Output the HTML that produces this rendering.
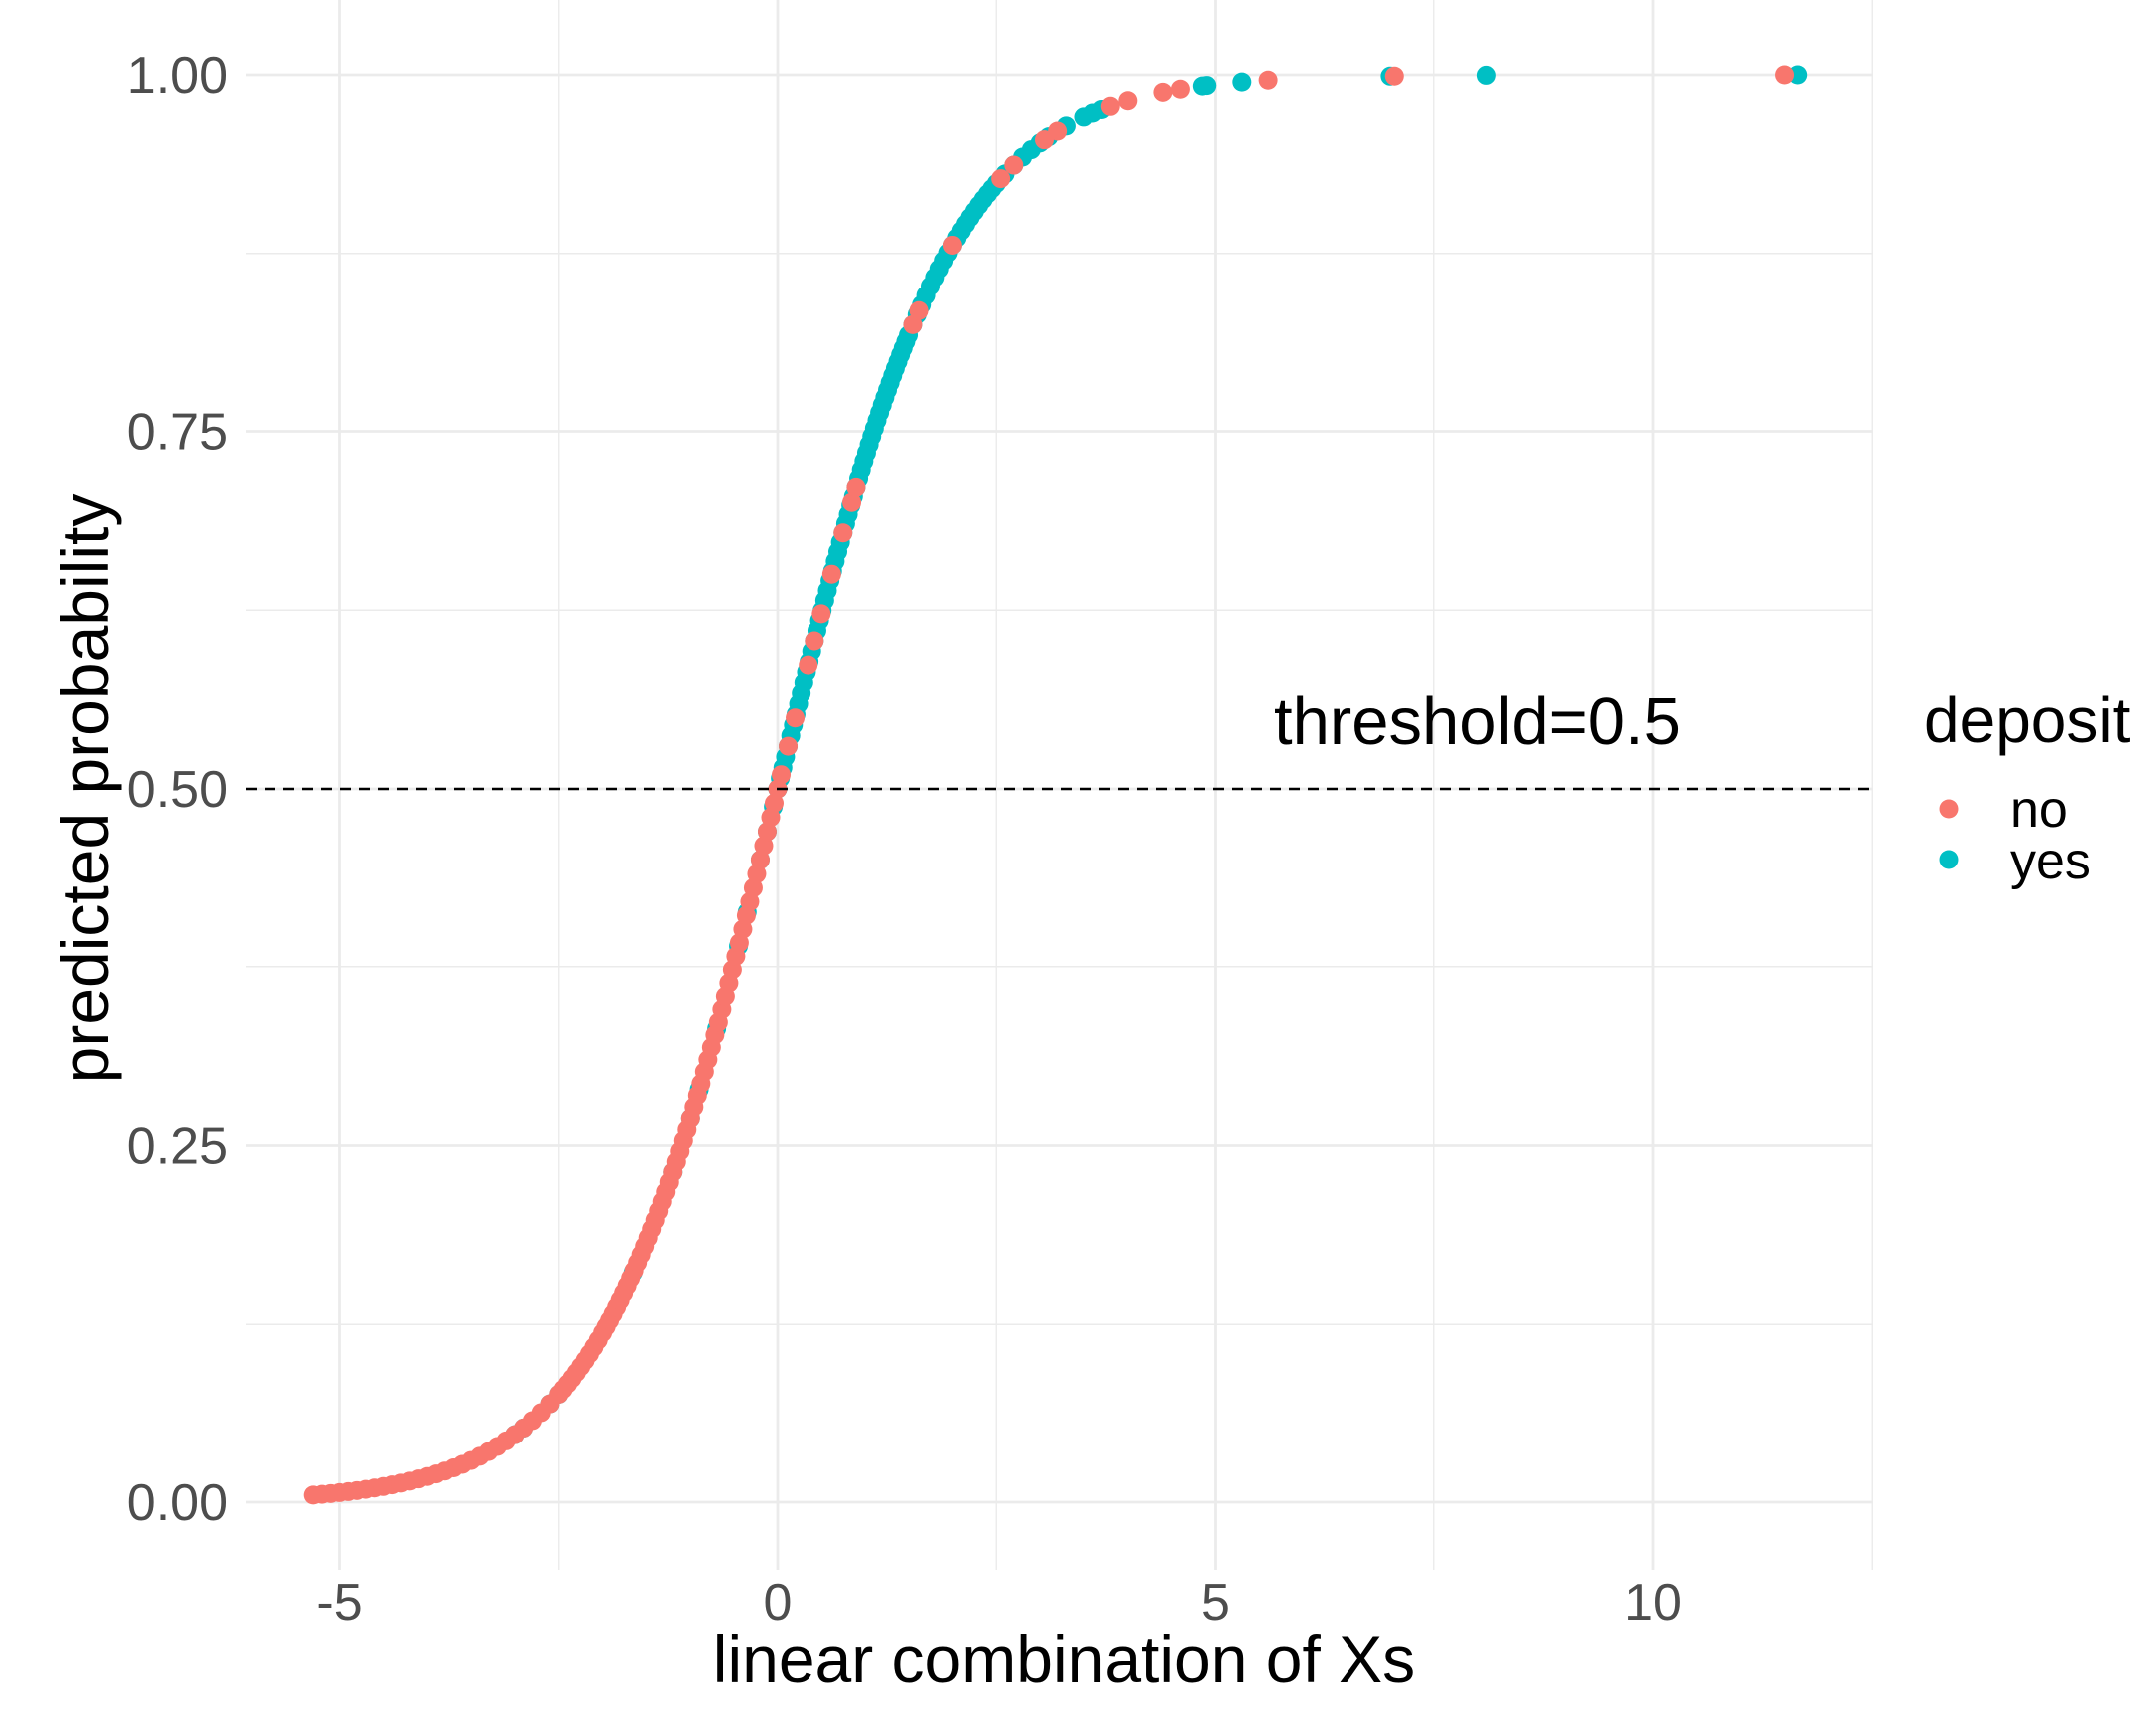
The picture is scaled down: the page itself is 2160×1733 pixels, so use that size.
<!DOCTYPE html>
<html><head><meta charset="utf-8"><style>
body{margin:0;background:#fff}
svg text{font-family:"Liberation Sans",sans-serif}
</style></head><body>
<svg id="chart" width="2160" height="1728" xmlns="http://www.w3.org/2000/svg">
<rect width="2160" height="1728" fill="#fff"/>
<g id="grid"></g>
<g id="pts"></g>
<g id="axes"></g>
<text x="1480" y="745" font-size="67" text-anchor="middle" fill="#000">threshold=0.5</text>
<text x="1066" y="1685" font-size="66" text-anchor="middle" fill="#000">linear combination of Xs</text>
<text transform="translate(108,790) rotate(-90)" font-size="66" text-anchor="middle" fill="#000">predicted probability</text>
<g>
<text x="1928" y="743" font-size="64" fill="#000">deposit</text>
<circle cx="1953" cy="810" r="9.5" fill="#F8766D"/>
<text x="2014" y="828" font-size="52" fill="#000">no</text>
<circle cx="1953" cy="861" r="9.5" fill="#00BFC4"/>
<text x="2014" y="880" font-size="52" fill="#000">yes</text>
</g>
</svg>
<script>
const xTicks=[-5,0,5,10];
const xTickLabels=["-5","0","5","10"];
const yTicks=[0,0.25,0.5,0.75,1];
const yTickLabels=["0.00","0.25","0.50","0.75","1.00"];
const threshold=0.5;
const noX=[-5.3,-5.2,-5.1,-5.0,-4.9,-4.8,-4.7,-4.6,-4.5,-4.4,-4.3,-4.2,-4.1,-4.0,-3.9,-3.8,-3.7,-3.6,-3.5,-3.4,-3.3,-3.2,-3.1,-3.0,-2.9,-2.8,-2.7,-2.6,-2.5,-2.45,-2.4,-2.35,-2.3,-2.25,-2.2,-2.15,-2.1,-2.05,-2.0,-1.96,-1.92,-1.88,-1.84,-1.8,-1.76,-1.72,-1.68,-1.64,-1.6,-1.56,-1.52,-1.48,-1.44,-1.4,-1.36,-1.32,-1.28,-1.24,-1.2,-1.16,-1.12,-1.08,-1.04,-1.0,-0.96,-0.92,-0.88,-0.84,-0.8,-0.76,-0.72,-0.68,-0.64,-0.6,-0.56,-0.52,-0.48,-0.44,-0.4,-0.36,-0.32,-0.28,-0.24,-0.2,-0.16,-0.12,-0.08,-0.04,0.0,0.04,0.12,0.2,0.35,0.42,0.5,0.62,0.75,0.85,0.9,1.55,1.62,2.0,2.55,2.7,3.05,3.2,3.8,4.0,4.4,4.6,5.6,7.05,11.5];
const yesX=[-3.0,-2.9,-2.6,-2.5,-1.65,-1.2,-1.0,-0.9,-0.7,-0.45,-0.35,-0.2,-0.12,-0.05,0.0,0.03,0.06,0.09,0.12,0.15,0.18,0.21,0.24,0.27,0.3,0.33,0.36,0.39,0.42,0.45,0.48,0.51,0.54,0.57,0.6,0.63,0.66,0.69,0.72,0.75,0.78,0.81,0.84,0.87,0.9,0.93,0.96,0.99,1.02,1.05,1.08,1.11,1.14,1.17,1.2,1.23,1.26,1.29,1.32,1.35,1.38,1.41,1.44,1.47,1.5,1.55,1.6,1.65,1.7,1.75,1.8,1.85,1.9,1.95,2.0,2.05,2.1,2.15,2.2,2.25,2.3,2.35,2.4,2.45,2.5,2.6,2.7,2.8,2.9,3.0,3.1,3.3,3.5,3.6,3.7,4.85,4.9,5.3,7.0,8.1,11.65];
const NS="http://www.w3.org/2000/svg";
const L=246,R=1876,T=0,B=1573;
function sx(v){return 779+v*87.7;}
function sy(p){return 1505-p*1430;}
function prob(x){return 1/(1+Math.exp(-x));}
function mk(tag,attrs,parent){const e=document.createElementNS(NS,tag);for(const k in attrs)e.setAttribute(k,attrs[k]);parent.appendChild(e);return e;}
const grid=document.getElementById('grid'),pts=document.getElementById('pts'),axes=document.getElementById('axes');
for(let i=0;i<xTicks.length;i++){
  const m=xTicks[i]+2.5;
  const gm=mk('line',{x1:sx(m),x2:sx(m),y1:T,y2:B,stroke:'#ebebeb','stroke-width':1.4},grid);
  
  
  const g=mk('line',{x1:sx(xTicks[i]),x2:sx(xTicks[i]),y1:T,y2:B,stroke:'#ebebeb','stroke-width':2.8},grid);
  
  
  const t=mk('text',{x:sx(xTicks[i]),y:1623,'font-size':52,'text-anchor':'middle',fill:'#4d4d4d'},axes);
  t.textContent=xTickLabels[i];
  
  
}
for(let i=0;i<yTicks.length;i++){
  if(i<yTicks.length-1){
    const gm=mk('line',{x1:L,x2:R,y1:sy(yTicks[i]+0.125),y2:sy(yTicks[i]+0.125),stroke:'#ebebeb','stroke-width':1.4},grid);
    
    
  }
  const g=mk('line',{x1:L,x2:R,y1:sy(yTicks[i]),y2:sy(yTicks[i]),stroke:'#ebebeb','stroke-width':2.8},grid);
  
  
  const t=mk('text',{x:228,y:sy(yTicks[i])+18,'font-size':52,'text-anchor':'end',fill:'#4d4d4d'},axes);
  t.textContent=yTickLabels[i];
  
  
}
const th=mk('line',{x1:L,x2:R,y1:sy(threshold),y2:sy(threshold),stroke:'#000','stroke-width':2.5,'stroke-dasharray':'11,8'},axes);


yesX.forEach(x=>{const c=mk('circle',{cx:sx(x),cy:sy(prob(x)),r:9.5,fill:'#00BFC4'},pts);

});
noX.forEach(x=>{const c=mk('circle',{cx:sx(x),cy:sy(prob(x)),r:9.5,fill:'#F8766D'},pts);

});
</script>
</body></html>
